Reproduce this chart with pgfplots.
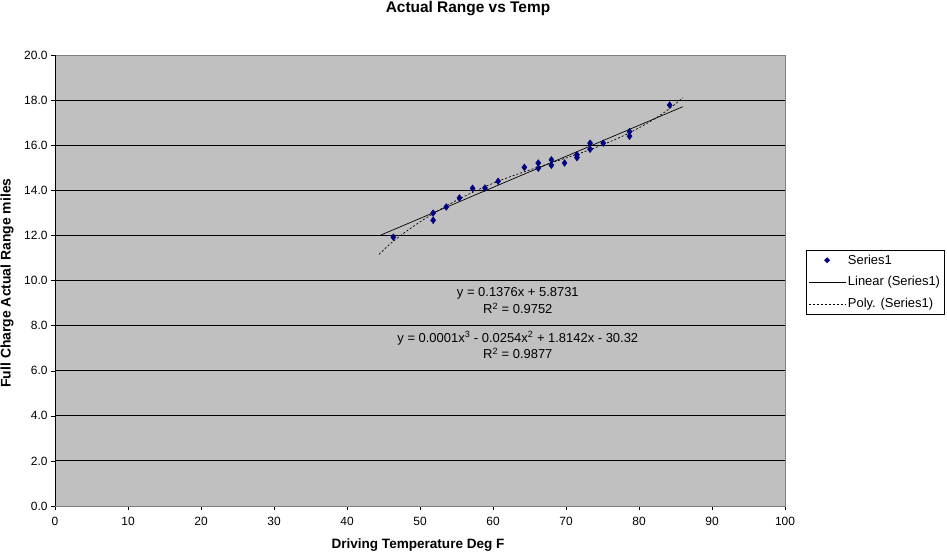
\documentclass[border=0pt]{standalone}
\usepackage{pgfplots}
\pgfplotsset{compat=1.18}
\usepackage{fontspec}
\setmainfont{Liberation Sans}
\definecolor{plotbg}{HTML}{C0C0C0}
\definecolor{navy}{HTML}{000080}
\pgfplotsset{
  mylinelegend/.style={legend image code/.code={\draw[##1] (0bp,0bp) -- (37bp,0bp);}},
  mymarklegend/.style={legend image code/.code={\path[draw=none] (0bp,0bp) -- (37bp,0bp); \fill[navy, draw=none] (18.5bp,3bp) -- (21.5bp,0bp) -- (18.5bp,-3bp) -- (15.5bp,0bp) -- cycle;}},
}
\begin{document}
\begin{tikzpicture}[x=1bp,y=1bp]
\path[use as bounding box] (0,0) rectangle (947,555);
\node[font=\fontsize{15.5}{17}\selectfont\bfseries] at (468,546) {Actual Range vs Temp};
\node[font=\fontsize{13.6}{15}\selectfont\bfseries] at (418,10) {Driving Temperature Deg F};
\node[font=\fontsize{14}{16}\selectfont\bfseries,rotate=90] at (7,272) {Full Charge Actual Range miles};
\begin{axis}[
  at={(55bp,49bp)}, anchor=south west,
  scale only axis, width=730bp, height=451bp,
  xmin=0, xmax=100, ymin=0, ymax=20,
  xtick={0,10,...,100}, ytick={0,2,...,20},
  axis background/.style={fill=plotbg},
  axis line style={draw=gray},
  ymajorgrids, major grid style={black, line width=0.8pt},
  tick align=outside, xtick pos=bottom, ytick pos=left,
  major tick length=4bp, tick style={black},
  yticklabel style={/pgf/number format/.cd, fixed, fixed zerofill, precision=1},
  xticklabel style={yshift=-4bp},
  /pgf/number format/assume math mode=true,
  ticklabel style={font=\fontsize{12}{14}\selectfont},
  legend style={at={(1.0288,0.5686)}, anchor=north west, draw=black, fill=white,
    font=\fontsize{13}{14}\selectfont, cells={anchor=west}, inner xsep=2bp, inner ysep=3bp,
    row sep=7bp},
  legend cell align=left,
]
\addplot[only marks, mark=diamond*, mark size=3.4bp, color=navy, mymarklegend]
 coordinates {
 (46.35,11.92) (51.8,12.99) (51.8,12.67) (53.6,13.26) (55.4,13.66)
 (57.2,14.09) (58.9,14.10) (60.7,14.40) (64.3,15.02) (66.2,15.21)
 (66.2,14.98) (68.0,15.35) (68.0,15.11) (69.8,15.21) (71.5,15.57)
 (71.5,15.45) (73.3,16.09) (73.3,15.82) (75.1,16.09) (78.7,16.60)
 (78.7,16.40) (84.2,17.78)
 };
\addlegendentry{Series1}
\addplot[black, line width=0.7pt, mylinelegend]
 coordinates {(44.5,11.996) (86,17.707)};
\addlegendentry{Linear (Series1)}
\addplot[black, line width=0.7pt, dash pattern=on 2bp off 2bp, smooth, mylinelegend]
 coordinates {
 (44.4,11.16) (46,11.65) (48,12.15) (50,12.6) (52,13.0) (54,13.38)
 (56,13.72) (58,14.03) (60,14.31) (62,14.56) (64,14.79) (66,15.01)
 (68,15.22) (70,15.43) (72,15.65) (74,15.89) (76,16.15) (78,16.44)
 (80,16.77) (82,17.14) (84,17.58) (86,18.1)
 };
\addlegendentry{Poly. (Series1)}
\draw[black] (axis cs:0,0) -- (axis cs:0,20);
\draw[black] (axis cs:0,0) -- (axis cs:100,0);
\node[align=center, font=\fontsize{13}{17}\selectfont, inner sep=0pt] at (axis cs:63.4,9.1)
  {y = 0.1376x + 5.8731\\R\textsuperscript{2} = 0.9752};
\node[align=center, font=\fontsize{13}{17}\selectfont, inner sep=0pt] at (axis cs:63.4,7.13)
  {y = 0.0001x\textsuperscript{3} - 0.0254x\textsuperscript{2} + 1.8142x - 30.32\\R\textsuperscript{2} = 0.9877};
\end{axis}
\end{tikzpicture}
\end{document}
